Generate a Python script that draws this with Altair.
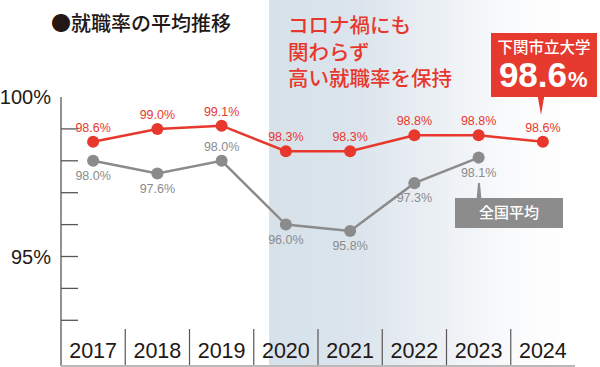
import altair as alt
import pandas as pd

# ---------------- data ----------------
years = [2017, 2018, 2019, 2020, 2021, 2022, 2023, 2024]
shimonoseki = [98.6, 99.0, 99.1, 98.3, 98.3, 98.8, 98.8, 98.6]
national_years = [2017, 2018, 2019, 2020, 2021, 2022, 2023]
national = [98.0, 97.6, 98.0, 96.0, 95.8, 97.3, 98.1]
tick_values = [93, 94, 95, 96, 97, 98, 99]
axis_label_values = [100, 95]
axis_label_texts = ["100%", "95%"]
title_text = ["●就職率の平均推移"]
covid_text = ["コロナ禍にも", "関わらず", "高い就職率を保持"]
school_name = ["下関市立大学"]
national_name = ["全国平均"]

# ---------------- scale calibration ----------------
W, H = 600, 367
AXIS_PX = 61.0        # x pixel of the y axis line
COL_W = 64.25         # pixel width of one year column
Y95_PX = 256.5        # y pixel of 95%
PCT_PX = 31.9         # pixels per 1%

x_dom = [2016.5 - AXIS_PX / COL_W, 2016.5 + (W - AXIS_PX) / COL_W]
y_dom = [95 - (H - Y95_PX) / PCT_PX, 95 + Y95_PX / PCT_PX]
xs = alt.Scale(domain=x_dom, nice=False, zero=False)
ys = alt.Scale(domain=y_dom, nice=False, zero=False)

def ypx(p):
    return 95 - (p - Y95_PX) / PCT_PX

def xpx(p):
    return 2016.5 + (p - AXIS_PX) / COL_W

floor_v = ypx(366)
divider_top = ypx(329)
left_edge = 2016.5
right_edge = 2016.5 + len(years)

RED = "#e8382d"
GRAY = "#8b8b8b"
DARK = "#231815"
AXC = "#5a5657"
NUMFONT = "Liberation Sans"
JPFONT = "Noto Sans CJK JP"

X = lambda f: alt.X(f, type="quantitative", scale=xs, axis=None)
Y = lambda f: alt.Y(f, type="quantitative", scale=ys, axis=None)

# ---------------- frames ----------------
df_red = pd.DataFrame({"year": years, "value": shimonoseki,
                       "label": [f"{v:.1f}%" for v in shimonoseki]})
df_gray = pd.DataFrame({"year": national_years, "value": national,
                        "label": [f"{v:.1f}%" for v in national]})
df_shade = pd.DataFrame({"x": [xpx(269)], "x2": [right_edge],
                         "y": [y_dom[1]], "y2": [floor_v]})
df_ticks = pd.DataFrame({"v": tick_values, "x": [left_edge] * len(tick_values),
                         "x2": [left_edge + 17 / COL_W] * len(tick_values)})
df_axl = pd.DataFrame({"v": axis_label_values, "t": axis_label_texts,
                       "x": [left_edge - 10 / COL_W] * 2})
df_div = pd.DataFrame({"x": [y + 0.5 for y in years[:-1]],
                       "y": [divider_top] * (len(years) - 1),
                       "y2": [floor_v] * (len(years) - 1)})
df_axis = pd.DataFrame({"x": [left_edge], "y": [100], "y2": [floor_v]})
df_bottom = pd.DataFrame({"x": [left_edge], "x2": [right_edge], "y": [floor_v]})
df_years = pd.DataFrame({"year": years, "t": [str(y) for y in years],
                         "y": [ypx(352)] * len(years)})

# ---------------- layers ----------------
shade = alt.Chart(df_shade).mark_rect(
    fill=alt.Gradient(
        gradient="linear", x1=0, x2=1, y1=0, y2=0,
        stops=[alt.GradientStop(color="#d6e1ea", offset=0),
               alt.GradientStop(color="#dce5ed", offset=0.3),
               alt.GradientStop(color="#edf1f5", offset=0.58),
               alt.GradientStop(color="#fafbfc", offset=0.8),
               alt.GradientStop(color="#ffffff", offset=1)])
).encode(x=X("x"), x2="x2", y=Y("y"), y2="y2")

axis_line = alt.Chart(df_axis).mark_rule(color=AXC, strokeWidth=1.3).encode(
    x=X("x"), y=Y("y"), y2="y2")
ticks = alt.Chart(df_ticks).mark_rule(color=AXC, strokeWidth=1.3).encode(
    x=X("x"), x2="x2", y=Y("v"))
axis_labels = alt.Chart(df_axl).mark_text(
    align="right", baseline="middle", font=NUMFONT, fontSize=20, color=DARK, dy=1
).encode(x=X("x"), y=Y("v"), text="t:N")
dividers = alt.Chart(df_div).mark_rule(color=AXC, strokeWidth=1.2).encode(
    x=X("x"), y=Y("y"), y2="y2")
bottom = alt.Chart(df_bottom).mark_rule(color="#b9b9b9", strokeWidth=2).encode(
    x=X("x"), x2="x2", y=Y("y"))
year_labels = alt.Chart(df_years).mark_text(
    align="center", baseline="middle", font=NUMFONT, fontSize=21.5, color=DARK
).encode(x=X("year"), y=Y("y"), text="t:N")

gray_line = alt.Chart(df_gray).mark_line(color=GRAY, strokeWidth=2.5).encode(
    x=X("year"), y=Y("value"))
gray_pts = alt.Chart(df_gray).mark_point(
    filled=True, opacity=1, size=145, color=GRAY, shape="circle"
).encode(x=X("year"), y=Y("value"))
gray_lbl_below = alt.Chart(df_gray).transform_filter("datum.year != 2019").mark_text(
    baseline="middle", dy=15, font=NUMFONT, fontSize=12.5, color=GRAY
).encode(x=X("year"), y=Y("value"), text="label:N")
gray_lbl_above = alt.Chart(df_gray).transform_filter("datum.year == 2019").mark_text(
    baseline="middle", dy=-14, font=NUMFONT, fontSize=12.5, color=GRAY
).encode(x=X("year"), y=Y("value"), text="label:N")

red_line = alt.Chart(df_red).mark_line(color=RED, strokeWidth=2.5).encode(
    x=X("year"), y=Y("value"))
red_pts = alt.Chart(df_red).mark_point(
    filled=True, opacity=1, size=145, color=RED, shape="circle"
).encode(x=X("year"), y=Y("value"))
red_lbl = alt.Chart(df_red).mark_text(
    baseline="middle", dy=-14, font=NUMFONT, fontSize=12.5, color=RED
).encode(x=X("year"), y=Y("value"), text="label:N")

# ---------------- annotations ----------------
title = alt.Chart(pd.DataFrame({"t": title_text})).mark_text(
    align="left", baseline="middle", font=JPFONT, fontSize=20, fontWeight=500, color=DARK
).encode(x=alt.value(51), y=alt.value(25), text="t:N")

covid_layers = []
for i, line in enumerate(covid_text):
    covid_layers.append(
        alt.Chart(pd.DataFrame({"t": [line]})).mark_text(
            align="left", baseline="middle", font=JPFONT, fontSize=20.5, fontWeight=500,
            color=RED
        ).encode(x=alt.value(288), y=alt.value(27 + 26.5 * i), text="t:N")
    )

one = pd.DataFrame({"a": [0]})
callout_box = alt.Chart(one).mark_rect(color="#e63a2e").encode(
    x=alt.value(491), x2=alt.value(597), y=alt.value(33), y2=alt.value(97))
callout_ptr = alt.Chart(one).mark_point(
    shape="M -0.35 -1 L 0.35 -1 L 0 1 Z", filled=True, opacity=1, size=324,
    color="#e63a2e", strokeWidth=0
).encode(x=alt.value(541), y=alt.value(106))
callout_name = alt.Chart(pd.DataFrame({"t": school_name})).mark_text(
    align="center", baseline="middle", font=JPFONT, fontSize=15.5, fontWeight=500,
    color="white"
).encode(x=alt.value(544), y=alt.value(48), text="t:N")
callout_num = alt.Chart(pd.DataFrame({"t": [f"{shimonoseki[-1]:.1f}"]})).mark_text(
    align="right", baseline="alphabetic", font=NUMFONT, fontSize=35, fontWeight="bold",
    color="white"
).encode(x=alt.value(567), y=alt.value(87), text="t:N")
callout_pct = alt.Chart(pd.DataFrame({"t": ["%"]})).mark_text(
    align="left", baseline="alphabetic", font=NUMFONT, fontSize=22, fontWeight="bold",
    color="white"
).encode(x=alt.value(568), y=alt.value(87), text="t:N")

gbox = alt.Chart(one).mark_rect(color="#8c8c8c").encode(
    x=alt.value(455), x2=alt.value(563), y=alt.value(198), y2=alt.value(228))
gptr = alt.Chart(one).mark_point(
    shape="M -0.12 -1 L 0.12 -1 L 0.3 1 L -0.3 1 Z", filled=True, opacity=1, size=256,
    color="#8c8c8c", strokeWidth=0
).encode(x=alt.value(479), y=alt.value(191))
gname = alt.Chart(pd.DataFrame({"t": national_name})).mark_text(
    align="center", baseline="middle", font=JPFONT, fontSize=15, fontWeight=500,
    color="white"
).encode(x=alt.value(509), y=alt.value(213), text="t:N")

chart = alt.layer(
    shade, axis_line, ticks, axis_labels, dividers, bottom, year_labels,
    gray_line, gray_pts, gray_lbl_below, gray_lbl_above,
    red_line, red_pts, red_lbl,
    title, *covid_layers, callout_box, callout_ptr, callout_name, callout_num, callout_pct,
    gbox, gptr, gname
).properties(
    width=W, height=H, padding=0, autosize=alt.AutoSizeParams(type="none"),
    background="white"
).configure_view(stroke=None)

chart.save("out.html", embed_options={"renderer": "svg", "actions": False})
